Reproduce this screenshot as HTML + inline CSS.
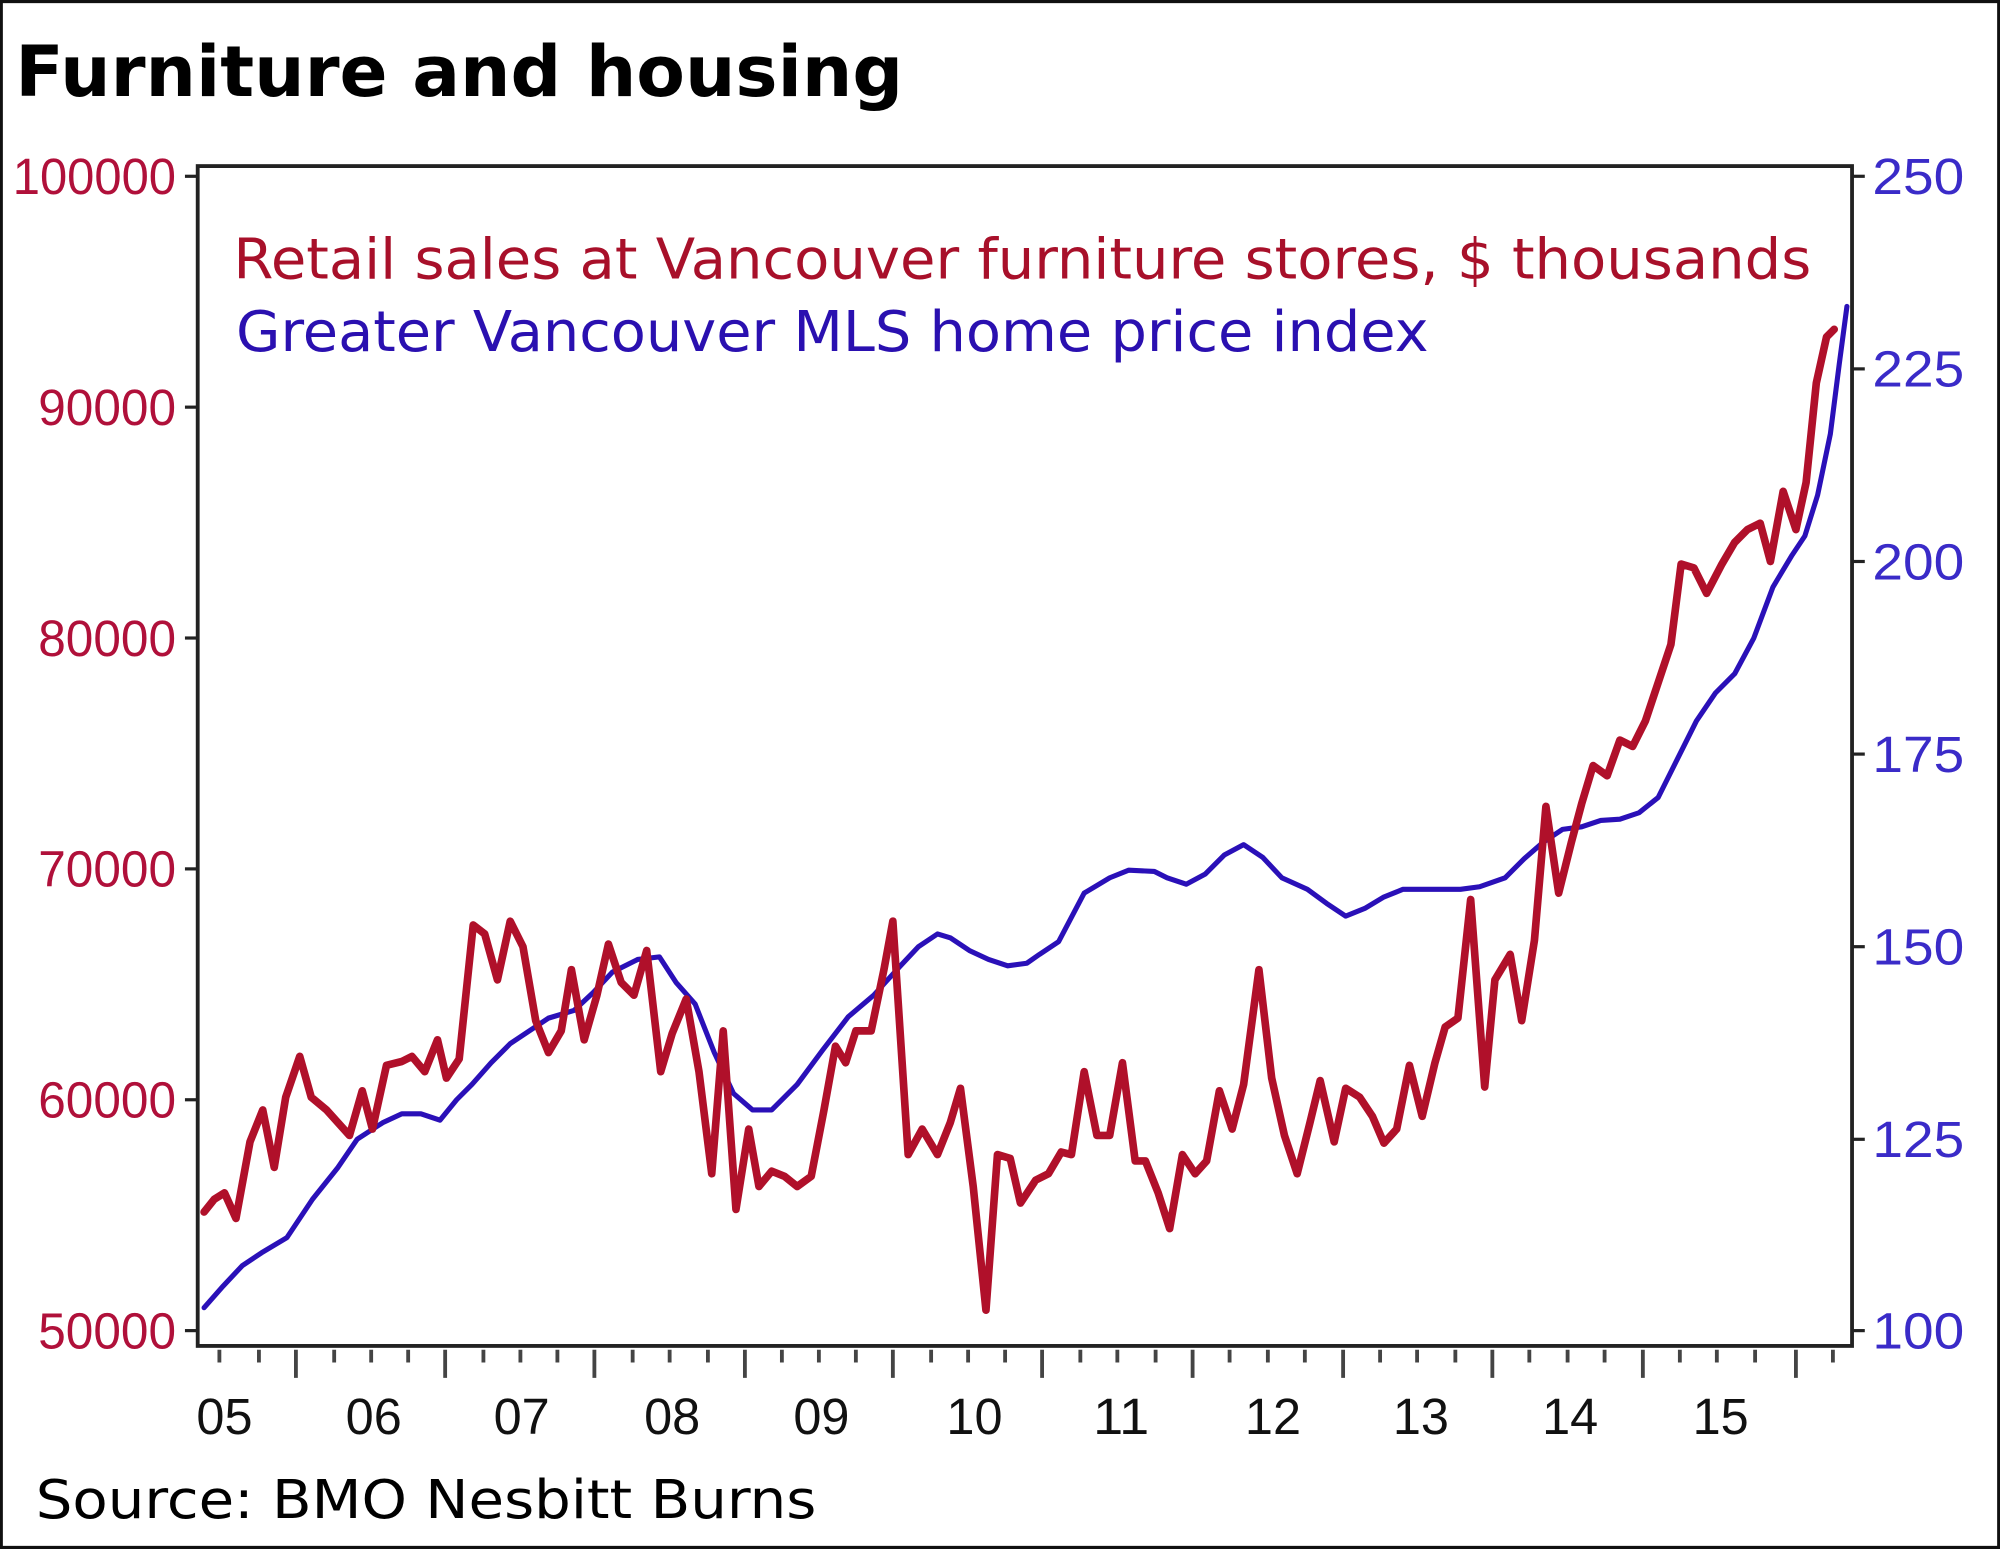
<!DOCTYPE html>
<html><head><meta charset="utf-8"><style>
html,body{margin:0;padding:0;background:#fff;}
svg{display:block;}
</style></head><body>
<svg width="2000" height="1549" viewBox="0 0 1568 1214" xmlns="http://www.w3.org/2000/svg">
<rect x="1" y="1" width="1566" height="1212" fill="#fff" stroke="#111" stroke-width="2.5"/>
<text x="12" y="75" font-family="DejaVu Sans, Liberation Sans, sans-serif" font-weight="bold" font-size="55" fill="#000" textLength="696" lengthAdjust="spacingAndGlyphs">Furniture and housing</text>
<rect x="155" y="130" width="1297" height="925" fill="none" stroke="#222" stroke-width="3"/>
<g stroke="#222" stroke-width="2.5">
<line x1="145" y1="138" x2="155" y2="138"/><line x1="145" y1="319" x2="155" y2="319"/><line x1="145" y1="500" x2="155" y2="500"/><line x1="145" y1="681" x2="155" y2="681"/><line x1="145" y1="862" x2="155" y2="862"/><line x1="145" y1="1043" x2="155" y2="1043"/>
<line x1="1452" y1="138" x2="1462" y2="138"/><line x1="1452" y1="289" x2="1462" y2="289"/><line x1="1452" y1="440" x2="1462" y2="440"/><line x1="1452" y1="591" x2="1462" y2="591"/><line x1="1452" y1="742" x2="1462" y2="742"/><line x1="1452" y1="893" x2="1462" y2="893"/><line x1="1452" y1="1043" x2="1462" y2="1043"/>
</g>
<g font-family="Liberation Sans, sans-serif" font-size="40" fill="#b0103a" lengthAdjust="spacingAndGlyphs">
<text x="10" y="152" textLength="128" lengthAdjust="spacingAndGlyphs">100000</text>
<text x="30" y="333" textLength="108" lengthAdjust="spacingAndGlyphs">90000</text>
<text x="30" y="514" textLength="108" lengthAdjust="spacingAndGlyphs">80000</text>
<text x="30" y="695" textLength="108" lengthAdjust="spacingAndGlyphs">70000</text>
<text x="30" y="876" textLength="108" lengthAdjust="spacingAndGlyphs">60000</text>
<text x="30" y="1057" textLength="108" lengthAdjust="spacingAndGlyphs">50000</text>
</g>
<g font-family="Liberation Sans, sans-serif" font-size="40" fill="#3a2bc8">
<text x="1468" y="152" textLength="72" lengthAdjust="spacingAndGlyphs">250</text>
<text x="1468" y="303" textLength="72" lengthAdjust="spacingAndGlyphs">225</text>
<text x="1468" y="454" textLength="72" lengthAdjust="spacingAndGlyphs">200</text>
<text x="1468" y="605" textLength="72" lengthAdjust="spacingAndGlyphs">175</text>
<text x="1468" y="756" textLength="72" lengthAdjust="spacingAndGlyphs">150</text>
<text x="1468" y="907" textLength="72" lengthAdjust="spacingAndGlyphs">125</text>
<text x="1468" y="1057" textLength="72" lengthAdjust="spacingAndGlyphs">100</text>
</g>
<g font-family="Liberation Sans, sans-serif" font-size="40" fill="#111">
<text x="154" y="1124" textLength="44" lengthAdjust="spacingAndGlyphs">05</text>
<text x="271" y="1124" textLength="44" lengthAdjust="spacingAndGlyphs">06</text>
<text x="387" y="1124" textLength="44" lengthAdjust="spacingAndGlyphs">07</text>
<text x="505" y="1124" textLength="44" lengthAdjust="spacingAndGlyphs">08</text>
<text x="622" y="1124" textLength="44" lengthAdjust="spacingAndGlyphs">09</text>
<text x="742" y="1124" textLength="44" lengthAdjust="spacingAndGlyphs">10</text>
<text x="857" y="1124" textLength="44" lengthAdjust="spacingAndGlyphs">11</text>
<text x="976" y="1124" textLength="44" lengthAdjust="spacingAndGlyphs">12</text>
<text x="1092" y="1124" textLength="44" lengthAdjust="spacingAndGlyphs">13</text>
<text x="1209" y="1124" textLength="44" lengthAdjust="spacingAndGlyphs">14</text>
<text x="1327" y="1124" textLength="44" lengthAdjust="spacingAndGlyphs">15</text>
</g>
<g stroke="#444" stroke-width="3">
<path d="M172 1058v10M203 1058v10M232 1058v22M262 1058v10M291 1058v10M320 1058v10M349 1058v22M379 1058v10M408 1058v10M437 1058v10M466 1058v22M496 1058v10M525 1058v10M555 1058v10M584 1058v22M613 1058v10M642 1058v10M671 1058v10M700 1058v22M730 1058v10M759 1058v10M788 1058v10M817 1058v22M847 1058v10M876 1058v10M906 1058v10M935 1058v22M964 1058v10M994 1058v10M1023 1058v10M1053 1058v22M1082 1058v10M1111 1058v10M1141 1058v10M1170 1058v22M1199 1058v10M1229 1058v10M1258 1058v10M1288 1058v22M1317 1058v10M1346 1058v10M1376 1058v10M1408 1058v22M1437 1058v10"/>
</g>
<text x="183" y="218" font-family="DejaVu Sans, sans-serif" font-size="44" fill="#a8102a" textLength="1237" lengthAdjust="spacingAndGlyphs">Retail sales at Vancouver furniture stores, $ thousands</text>
<text x="185" y="275" font-family="DejaVu Sans, sans-serif" font-size="44" fill="#2a10b0" textLength="935" lengthAdjust="spacingAndGlyphs">Greater Vancouver MLS home price index</text>
<polyline fill="none" stroke="#2a10b8" stroke-width="4" stroke-linejoin="round" stroke-linecap="round" points="160,1025 175,1008 190,992 205,982 225,970 245,940 265,915 280,893 300,880 315,873 330,873 345,878 358,862 370,850 385,833 400,818 415,808 430,798 450,792 465,778 480,762 500,752 517,750 530,770 545,787 560,825 575,857 590,870 605,870 625,850 645,823 665,797 685,780 705,758 720,742 735,732 745,735 760,745 775,752 790,757 805,755 815,748 830,738 850,700 870,688 885,682 905,683 915,688 930,693 945,685 960,670 975,662 990,672 1005,688 1025,697 1040,708 1055,718 1070,712 1085,703 1100,697 1115,697 1130,697 1145,697 1160,695 1180,688 1195,673 1210,660 1225,650 1240,648 1255,643 1270,642 1285,637 1300,625 1315,595 1330,565 1345,543 1360,528 1375,500 1390,460 1405,435 1415,420 1425,388 1435,340 1442,285 1448,240"/>
<polyline fill="none" stroke="#b0102a" stroke-width="6" stroke-linejoin="round" stroke-linecap="round" points="160,950 168,940 176,935 185,955 196,895 206,870 215,915 224,860 235,828 244,860 256,870 265,880 274,890 284,855 292,885 303,835 315,832 323,828 333,840 343,815 350,845 360,830 371,725 380,732 390,768 400,722 410,742 420,800 430,825 440,808 448,760 458,815 468,780 477,740 487,770 497,780 507,745 518,840 527,810 538,783 548,840 558,920 567,808 577,948 587,885 595,930 605,918 615,922 625,930 636,922 646,870 655,820 663,833 671,808 683,808 693,760 700,722 712,905 723,885 735,905 745,880 753,853 763,930 773,1027 782,905 792,908 800,943 812,925 822,920 832,903 840,905 850,840 860,890 870,890 880,833 890,910 898,910 908,935 917,963 927,905 937,920 946,910 956,855 966,885 975,850 987,760 997,845 1007,890 1017,920 1027,880 1035,847 1046,895 1055,853 1066,860 1076,875 1085,896 1095,885 1105,835 1115,875 1125,833 1133,805 1143,798 1153,705 1164,852 1172,768 1184,748 1193,800 1203,737 1212,632 1222,700 1232,660 1240,630 1249,600 1260,608 1270,580 1280,585 1290,565 1300,535 1310,505 1318,442 1328,445 1338,465 1350,442 1360,425 1370,415 1380,410 1388,440 1398,385 1408,415 1416,378 1424,300 1432,264 1438,258"/>
<text x="28" y="1190" font-family="DejaVu Sans, sans-serif" font-size="42" fill="#000" textLength="612" lengthAdjust="spacingAndGlyphs">Source: BMO Nesbitt Burns</text>
</svg>
</body></html>
